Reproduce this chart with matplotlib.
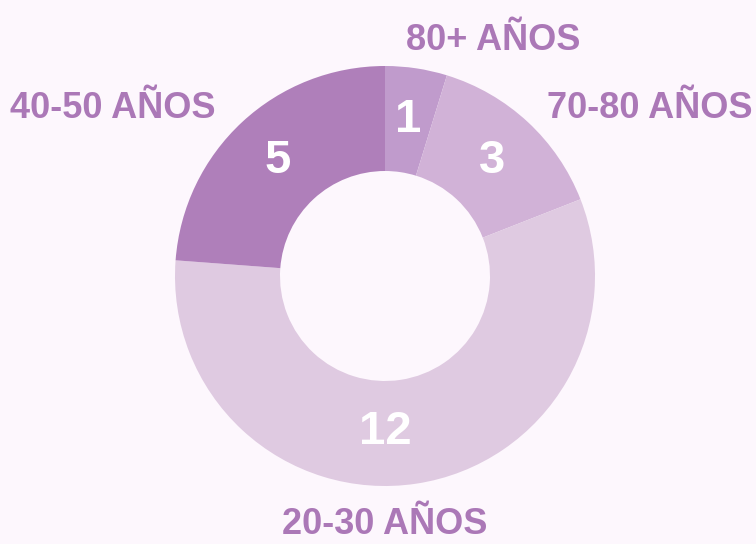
import matplotlib.pyplot as plt
import numpy as np

labels = ['80+ AÑOS', '70-80 AÑOS', '20-30 AÑOS', '40-50 AÑOS']
values = [1, 3, 12, 5]
colors = ['#c09bcc', '#d1b2d7', '#dfcae1', '#af7fba']

bg = '#fdf7fd'
txt_color = '#ab78b7'
font = ['Liberation Sans', 'DejaVu Sans']

fig = plt.figure(figsize=(7.56, 5.44), dpi=100, facecolor=bg)
ax = fig.add_axes([0, 0, 1, 1])
ax.set_facecolor(bg)

cx, cy, r = 385, 268, 210
wedges, _ = ax.pie(values, colors=colors, startangle=90, counterclock=False,
                   center=(cx, cy), radius=r, frame=True,
                   wedgeprops=dict(width=r * 0.5, linewidth=0))
ax.set_xlim(0, 756)
ax.set_ylim(0, 544)
ax.set_aspect('equal')
ax.axis('off')

# white value labels in the middle of the ring
for w, v in zip(wedges, values):
    ang = np.deg2rad((w.theta1 + w.theta2) / 2)
    x = cx + 0.75 * r * np.cos(ang)
    y = cy + 0.75 * r * np.sin(ang)
    if v == 12:
        x = cx
    ax.text(x, y, str(v), color='white', fontsize=34, fontweight='bold',
            family=font, ha='center', va='center')

# outer category labels
label_pos = {'80+ AÑOS': (493, 503), '70-80 AÑOS': (650, 436),
             '40-50 AÑOS': (113, 436), '20-30 AÑOS': (385, 19)}
for lab in labels:
    x, y = label_pos[lab]
    ax.text(x, y, lab, color=txt_color, fontsize=26, fontweight='bold',
            family=font, ha='center', va='center')

fig.savefig('out.png', dpi=100, facecolor=bg)
